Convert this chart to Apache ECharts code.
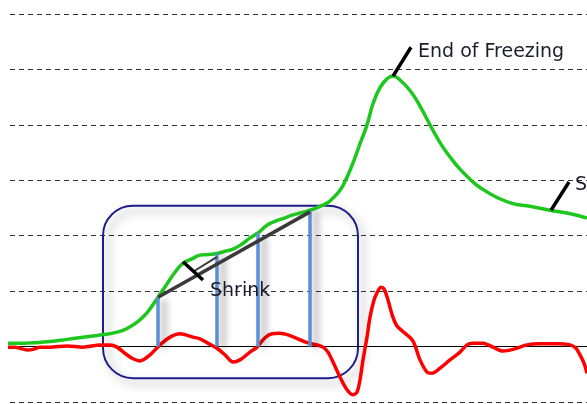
<!DOCTYPE html>
<html>
<head>
<meta charset="utf-8">
<script src="https://cdn.jsdelivr.net/npm/echarts@6/dist/echarts.min.js"></script>
<style>
  html, body { margin: 0; padding: 0; background: #fff; }
  #chart { width: 587px; height: 404px; }
</style>
</head>
<body>
<div id="chart"></div>
<script>
// time (arbitrary units) and signal values
const greenT = [7, 20, 33, 50, 67, 83, 100, 117, 133, 145, 150, 158, 167, 175, 183, 193, 200, 208, 217, 225, 233, 242, 250, 258, 267, 275, 283, 292, 300, 310, 320, 327, 333, 340, 345, 350, 355, 360, 367, 373, 380, 387, 393, 400, 410, 420, 430, 440, 450, 460, 470, 480, 497, 513, 530, 550, 567, 587];
const greenV = [0.06, 0.06, 0.07, 0.09, 0.13, 0.17, 0.21, 0.26, 0.39, 0.57, 0.68, 0.89, 1.13, 1.34, 1.50, 1.59, 1.65, 1.66, 1.68, 1.72, 1.76, 1.85, 1.96, 2.05, 2.19, 2.26, 2.31, 2.37, 2.41, 2.46, 2.53, 2.59, 2.68, 2.82, 2.98, 3.18, 3.41, 3.66, 4.00, 4.38, 4.67, 4.83, 4.88, 4.81, 4.62, 4.34, 4.00, 3.68, 3.42, 3.20, 3.02, 2.87, 2.69, 2.58, 2.53, 2.46, 2.41, 2.32];

const redT = [7, 15, 20, 27, 33, 40, 50, 67, 83, 100, 110, 117, 127, 133, 140, 150, 160, 170, 180, 193, 200, 208, 217, 225, 233, 240, 250, 257, 265, 272, 280, 288, 295, 307, 317, 323, 328, 333, 340, 347, 353, 357, 360, 363, 367, 370, 374, 377, 381, 384, 388, 392, 397, 405, 413, 420, 427, 432, 440, 450, 460, 467, 473, 483, 493, 503, 513, 527, 540, 557, 570, 576, 580, 584, 587];
const redV = [-0.01, -0.01, -0.03, -0.06, -0.05, -0.01, -0.01, 0.01, -0.01, 0.03, 0.03, -0.01, -0.15, -0.22, -0.26, -0.15, 0.03, 0.17, 0.23, 0.17, 0.14, 0.06, -0.03, -0.15, -0.28, -0.24, -0.10, -0.01, 0.16, 0.23, 0.24, 0.21, 0.16, 0.07, 0.03, -0.01, -0.10, -0.28, -0.55, -0.78, -0.87, -0.82, -0.60, -0.24, 0.17, 0.53, 0.84, 0.97, 1.07, 1.04, 0.84, 0.58, 0.37, 0.24, 0.10, -0.24, -0.46, -0.48, -0.39, -0.24, -0.10, 0.03, 0.06, 0.06, -0.01, -0.08, -0.05, 0.03, 0.05, 0.05, 0.03, -0.03, -0.15, -0.30, -0.48];

// shrink markers: vertical drops from the green curve to zero
const shrinkT = [158, 217, 258, 310];
const shrinkTop = [0.89, 1.68, 2.05, 2.45];

// annotation lines [t1, v1, t2, v2]
const trendLine = [158, 0.89, 310, 2.43];
const trendLine2 = [193, 1.35, 217, 1.62];
const ticks = [
  [393, 4.88, 411, 5.40],
  [551, 2.46, 569, 2.97],
  [183, 1.53, 203, 1.20]
];

// labels [text, t, v]
const labels = [
  ['End of Freezing', 418, 5.31],
  ['S', 575, 2.92],
  ['Shrink', 210, 1.00]
];

// highlight box [t1, v1, t2, v2]
const box = [103, 2.54, 358, -0.57];

const zip = (a, b) => a.map((t, i) => [t, b[i]]);
const seg = (s, style) => [
  { coord: [s[0], s[1]], lineStyle: style },
  { coord: [s[2], s[3]] }
];

const markData = [];
shrinkT.forEach((t, i) => {
  markData.push(seg([t, shrinkTop[i], t, 0], {
    color: '#5b8fd6', width: 3.5, type: 'solid',
    shadowBlur: 7, shadowColor: 'rgba(0,0,0,0.4)', shadowOffsetX: 6, shadowOffsetY: 2
  }));
});
markData.push(seg(trendLine, { color: '#3a3a3a', width: 3.5, type: 'solid' }));
markData.push(seg(trendLine2, { color: '#3a3a3a', width: 2, type: 'solid' }));
ticks.forEach(s => markData.push(seg(s, { color: '#000', width: 3.5, type: 'solid' })));

const chart = echarts.init(document.getElementById('chart'));

chart.setOption({
  animation: false,
  grid: { left: 10, right: 0, top: 14, bottom: 2 },
  xAxis: {
    type: 'value', min: 10, max: 587,
    axisLine: { show: true, onZero: true, lineStyle: { color: '#000', width: 1 } },
    axisTick: { show: false }, axisLabel: { show: false }, splitLine: { show: false }
  },
  yAxis: {
    type: 'value', min: -1, max: 6, interval: 1,
    axisLine: { show: false }, axisTick: { show: false }, axisLabel: { show: false },
    splitLine: { show: true, lineStyle: { color: '#333', width: 1, type: [5, 4] } }
  },
  series: [
    {
      type: 'line', data: zip(redT, redV), clip: false,
      symbol: 'none', smooth: 0.3,
      lineStyle: { color: '#ff0000', width: 3.5 }, z: 3
    },
    {
      type: 'line', data: zip(greenT, greenV), clip: false,
      symbol: 'none', smooth: 0.5,
      lineStyle: { color: '#1ec71e', width: 3.5 }, z: 4,
      markLine: {
        silent: true, symbol: ['none', 'none'], label: { show: false },
        lineStyle: { width: 3.5, type: 'solid' },
        animation: false, data: markData
      }
    }
  ]
});

const px = (t, v) => chart.convertToPixel({ gridIndex: 0 }, [t, v]);
const b1 = px(box[0], box[1]);
const b2 = px(box[2], box[3]);

const graphics = [{
  type: 'rect', z: 0,
  shape: { x: b1[0], y: b1[1], width: b2[0] - b1[0], height: b2[1] - b1[1], r: 30 },
  style: {
    fill: 'none', stroke: '#1f1f8c', lineWidth: 2,
    shadowBlur: 10, shadowColor: 'rgba(0,0,0,0.4)', shadowOffsetX: 5, shadowOffsetY: 5
  }
}];
labels.forEach(([text, t, v]) => {
  const p = px(t, v);
  graphics.push({
    type: 'text', z: 100, x: p[0], y: p[1],
    style: {
      text: text, fill: '#1c1c2c', font: '19px "DejaVu Sans"',
      align: 'left', verticalAlign: 'middle'
    }
  });
});
chart.setOption({ graphic: graphics });
</script>
</body>
</html>
